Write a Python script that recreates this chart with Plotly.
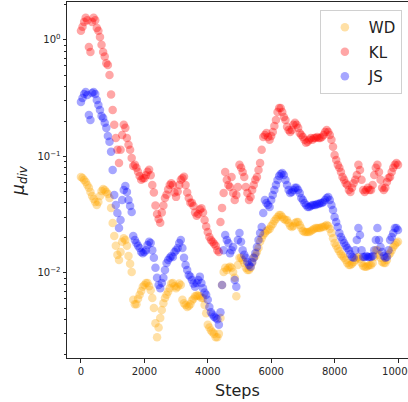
import plotly.graph_objects as go

steps = list(range(0, 10001, 50))

kl = [1.20, 1.30, 1.43, 1.55, 1.48, 0.87, 0.79, 1.43, 1.55, 1.48,
      1.27, 1.20, 1.06, 0.91, 0.79, 0.72, 0.63, 0.61, 0.50, 0.34,
      0.251, 0.187, 0.144, 0.114, 0.088, 0.114, 0.153, 0.187, 0.176, 0.144,
      0.126, 0.114, 0.097, 0.083, 0.085, 0.080, 0.074, 0.068, 0.063, 0.065,
      0.065, 0.069, 0.074, 0.077, 0.069, 0.057, 0.049, 0.038, 0.032, 0.029,
      0.027, 0.033, 0.038, 0.044, 0.047, 0.052, 0.057, 0.059, 0.057, 0.049,
      0.045, 0.050, 0.057, 0.063, 0.065, 0.067, 0.057, 0.049, 0.044, 0.040,
      0.040, 0.0376, 0.033, 0.031, 0.032, 0.035, 0.036, 0.033, 0.0285, 0.025,
      0.0225, 0.0204, 0.0192, 0.0185, 0.0178, 0.0171, 0.0157, 0.0151, 0.0274, 0.0362,
      0.0486, 0.0737, 0.063, 0.057, 0.0548, 0.0667, 0.0486, 0.0423, 0.0467, 0.0548,
      0.0847, 0.080, 0.0737, 0.0667, 0.0548, 0.0486, 0.0423, 0.0449, 0.0516, 0.057,
      0.063, 0.0667, 0.0766, 0.088, 0.114, 0.147, 0.153, 0.159, 0.147, 0.139,
      0.150, 0.162, 0.183, 0.206, 0.241, 0.261, 0.261, 0.241, 0.218, 0.206,
      0.180, 0.169, 0.162, 0.169, 0.187, 0.195, 0.187, 0.176, 0.159, 0.153,
      0.147, 0.139, 0.131, 0.134, 0.139, 0.144, 0.139, 0.144, 0.144, 0.147,
      0.144, 0.144, 0.147, 0.153, 0.162, 0.169, 0.162, 0.153, 0.139, 0.121,
      0.103, 0.0934, 0.0847, 0.080, 0.0737, 0.0667, 0.063, 0.059, 0.057, 0.0516,
      0.0496, 0.054, 0.059, 0.063, 0.0694, 0.0847, 0.0766, 0.063, 0.0516, 0.0496,
      0.0516, 0.054, 0.0516, 0.0516, 0.057, 0.0694, 0.080, 0.0847, 0.0737, 0.063,
      0.054, 0.0516, 0.054, 0.0605, 0.0654, 0.0667, 0.0737, 0.080, 0.0847, 0.088,
      0.0847]

js = [0.293, 0.317, 0.344, 0.358, 0.337, 0.227, 0.206, 0.351, 0.358, 0.344,
      0.305, 0.277, 0.251, 0.223, 0.214, 0.195, 0.176, 0.150, 0.134, 0.110,
      0.0766, 0.0467, 0.0383, 0.0327, 0.0243, 0.0285, 0.0423, 0.0516, 0.0559, 0.0496,
      0.0423, 0.0376, 0.0334, 0.0208, 0.0192, 0.0181, 0.0171, 0.0164, 0.0151, 0.0148,
      0.0151, 0.0157, 0.0174, 0.0185, 0.0181, 0.0157, 0.0135, 0.0111, 0.0091, 0.0079,
      0.0074, 0.0082, 0.0091, 0.0106, 0.0122, 0.0129, 0.0135, 0.0140, 0.0137, 0.0151,
      0.0157, 0.0164, 0.0181, 0.0192, 0.0164, 0.0135, 0.0117, 0.0106, 0.0096, 0.0093,
      0.0087, 0.0081, 0.0076, 0.0082, 0.0087, 0.0093, 0.0082, 0.0074, 0.0068, 0.0065,
      0.0059, 0.0051, 0.0046, 0.0044, 0.0042, 0.0041, 0.0040, 0.0036, 0.0046, 0.0079,
      0.0157, 0.0212, 0.0192, 0.0181, 0.0148, 0.0157, 0.0167, 0.0087, 0.0076, 0.0192,
      0.0220, 0.0185, 0.0157, 0.0143, 0.0135, 0.0124, 0.0117, 0.0113, 0.0124, 0.0135,
      0.0148, 0.0167, 0.0192, 0.0220, 0.0248, 0.0327, 0.0423, 0.0399, 0.0383, 0.0369,
      0.0423, 0.0467, 0.0516, 0.057, 0.0629, 0.068, 0.0708, 0.072, 0.0694, 0.0629,
      0.057, 0.0516, 0.0486, 0.0496, 0.0516, 0.054, 0.054, 0.0516, 0.0486, 0.044,
      0.0423, 0.0399, 0.0383, 0.0369, 0.0369, 0.0376, 0.0383, 0.0383, 0.0383, 0.0391,
      0.0391, 0.0399, 0.0399, 0.0407, 0.0423, 0.044, 0.0449, 0.0423, 0.0383, 0.0347,
      0.0302, 0.0274, 0.0248, 0.0220, 0.0204, 0.0192, 0.0181, 0.0171, 0.0164, 0.0157,
      0.0145, 0.0137, 0.0135, 0.0157, 0.0192, 0.0243, 0.0212, 0.0157, 0.0137, 0.0137,
      0.0140, 0.0137, 0.0137, 0.0137, 0.0140, 0.0157, 0.0192, 0.0243, 0.0192, 0.0167,
      0.0151, 0.0140, 0.0135, 0.0137, 0.0157, 0.0192, 0.0204, 0.0220, 0.0243, 0.0243,
      0.0234]

wd = [0.0667, 0.0654, 0.0629, 0.0605, 0.057, 0.054, 0.0496, 0.0458, 0.0431, 0.0407,
      0.0383, 0.0407, 0.0458, 0.0506, 0.0526, 0.0516, 0.0496, 0.0476, 0.044, 0.0362,
      0.0268, 0.0208, 0.0171, 0.0143, 0.0129, 0.0151, 0.0185, 0.0199, 0.0192, 0.0171,
      0.0140, 0.0120, 0.0102, 0.0059, 0.0054, 0.0054, 0.0060, 0.0065, 0.0070, 0.0076,
      0.0079, 0.0082, 0.0082, 0.0077, 0.0071, 0.0061, 0.0050, 0.0037, 0.0028, 0.0034,
      0.0041, 0.0048, 0.0055, 0.0061, 0.0065, 0.0069, 0.0074, 0.0081, 0.0082, 0.0077,
      0.0074, 0.0076, 0.0081, 0.0079, 0.0059, 0.0055, 0.0053, 0.0051, 0.0052, 0.0054,
      0.0058, 0.0060, 0.0063, 0.0064, 0.0064, 0.0063, 0.0061, 0.0061, 0.0053, 0.0045,
      0.0036, 0.0034, 0.0032, 0.0031, 0.0030, 0.0028, 0.0028, 0.0030, 0.0041, 0.0079,
      0.0102, 0.0111, 0.0106, 0.0111, 0.0113, 0.0111, 0.0102, 0.0091, 0.0063, 0.0117,
      0.0135, 0.0135, 0.0129, 0.0122, 0.0111, 0.0106, 0.0106, 0.0111, 0.0122, 0.0135,
      0.0140, 0.0151, 0.0164, 0.0185, 0.0199, 0.0212, 0.0220, 0.0229, 0.0234, 0.0239,
      0.0253, 0.0263, 0.0279, 0.0291, 0.0302, 0.0315, 0.0315, 0.0302, 0.0291, 0.0285,
      0.0285, 0.0268, 0.0253, 0.0248, 0.0253, 0.0268, 0.0274, 0.0274, 0.0258, 0.0243,
      0.0229, 0.0225, 0.0225, 0.0225, 0.0225, 0.0229, 0.0234, 0.0239, 0.0243, 0.0243,
      0.0243, 0.0243, 0.0248, 0.0248, 0.0253, 0.0258, 0.0253, 0.0239, 0.0220, 0.0199,
      0.0181, 0.0171, 0.0161, 0.0154, 0.0145, 0.0140, 0.0135, 0.0129, 0.0122, 0.0117,
      0.0117, 0.0120, 0.0124, 0.0129, 0.0135, 0.0137, 0.0132, 0.0122, 0.0115, 0.0113,
      0.0113, 0.0115, 0.0117, 0.0117, 0.0122, 0.0137, 0.0157, 0.0157, 0.0143, 0.0135,
      0.0124, 0.0122, 0.0122, 0.0129, 0.0143, 0.0148, 0.0157, 0.0167, 0.0174, 0.0181,
      0.0185]

series_names = ["WD", "KL", "JS"]
series_colors = ["orange", "red", "blue"]
series_values = [wd, kl, js]

y_tickvals = [0.01, 0.1, 1]
y_ticktext = ["10<sup>−2</sup>", "10<sup>−1</sup>", "10<sup>0</sup>"]
y_minor = [0.002, 0.003, 0.004, 0.005, 0.006, 0.007, 0.008, 0.009,
           0.02, 0.03, 0.04, 0.05, 0.06, 0.07, 0.08, 0.09,
           0.2, 0.3, 0.4, 0.5, 0.6, 0.7, 0.8, 0.9, 2.0]
x_tickvals = [0, 2000, 4000, 6000, 8000, 10000]

fig = go.Figure()
for name, color, vals in zip(series_names, series_colors, series_values):
    fig.add_trace(go.Scatter(
        x=steps, y=vals, mode="markers", name=name, legendgroup=name,
        marker=dict(color=color, size=8.5, opacity=0.35, line=dict(width=0)),
    ))

axis_color = "#262626"
fig.update_layout(
    width=408, height=402,
    margin=dict(l=67, r=0, t=2, b=44, autoexpand=False),
    paper_bgcolor="white", plot_bgcolor="white",
    font=dict(family="DejaVu Sans", color=axis_color, size=10),
    showlegend=True,
    legend=dict(
        x=0.982, y=0.9775, xanchor="right", yanchor="top",
        bgcolor="rgba(255,255,255,0.8)", bordercolor="#d0d0d0", borderwidth=1,
        font=dict(size=15, color="#222"), itemwidth=38, tracegroupgap=2,
    ),
    xaxis=dict(
        range=[-440, 10315], showgrid=False, zeroline=False, automargin=False,
        showline=True, linecolor=axis_color, linewidth=1, mirror=True,
        ticks="outside", ticklen=3.5, tickcolor=axis_color,
        tickvals=x_tickvals, ticktext=[str(v) for v in x_tickvals],
        ticklabeloverflow="allow",
    ),
    yaxis=dict(
        type="log", range=[-2.730, 0.326], showgrid=False, zeroline=False, automargin=False,
        showline=True, linecolor=axis_color, linewidth=1, mirror=False,
        ticks="outside", ticklen=3.5, tickcolor=axis_color,
        tickvals=y_tickvals, ticktext=y_ticktext,
        minor=dict(ticks="outside", ticklen=2, tickcolor=axis_color,
                   tickmode="array", tickvals=y_minor, showgrid=False),
    ),
    annotations=[
        dict(text="Steps", xref="paper", yref="paper", x=0.5, y=-0.09,
             xanchor="center", yanchor="middle", showarrow=False,
             font=dict(size=16, color="#222")),
        dict(text="<i>μ</i><sub><i>div</i></sub>", xref="paper", yref="paper",
             x=-0.141, y=0.5, xanchor="center", yanchor="middle", textangle=-90,
             showarrow=False, font=dict(size=17, color="#222")),
    ],
)

fig.write_html(
    "out.html",
    config={"displayModeBar": False},
    post_script="document.body.style.margin='0px';document.body.style.overflow='hidden';",
)
